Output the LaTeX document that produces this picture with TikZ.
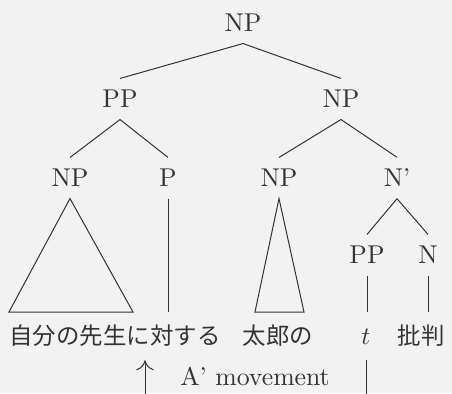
\documentclass[tikz,border=0pt]{standalone}
\usepackage{fontspec}
\newfontfamily\jafont{Noto Sans CJK JP}[Scale=0.91]
\usetikzlibrary{arrows.meta}

\begin{document}
\begin{tikzpicture}[x=0.4pt, y=0.4pt,
    color=black!80,
    font=\fontsize{10.3}{12}\selectfont,
    cat/.style={inner sep=4.5pt},
    word/.style={inner sep=4.5pt, text height=8.5pt, text depth=1.5pt},
    branch/.style={draw, line width=0.4pt}]

  % Page and its margins
  \fill[black!5] (0,0) rectangle (452,393);
  \useasboundingbox (0,0) rectangle (452,393);
  \clip (0,0) rectangle (452,393);

  % Root
  \node[cat] (NP0) at (243,370) {NP};

  % Second level
  \node[cat] (PP1) at (120,294) {PP};
  \node[cat] (NP1) at (341,294) {NP};

  % Third level
  \node[cat] (NP2) at (70,215) {NP};
  \node[cat] (P)   at (168,215) {P};
  \node[cat] (NP3) at (279,215) {NP};
  \node[cat] (N1)  at (397,215) {N'};

  % Fourth level
  \node[cat] (PP2) at (367,138) {PP};
  \node[cat] (N)   at (428,138) {N};

  % Words
  \node[word] (jibun) at (115,57) {\jafont 自分の先生に対する};
  \node[word] (taro)  at (278,57) {\jafont 太郎の};
  \node[word] (t)     at (366,57) {$t$};
  \node[word] (hihan) at (421,57) {\jafont 批判};
  \node (move) at (255,17) {A' movement};

  % Branches
  \foreach \a/\b in {NP0/PP1, NP0/NP1, PP1/NP2, PP1/P, NP1/NP3, NP1/N1, N1/PP2, N1/N} {
    \draw[branch] (\a.south) -- (\b.north);
  }

  % Unary branches
  \draw[branch] (P.south) -- (P.south |- jibun.north);
  \draw[branch] (PP2.south) -- (PP2.south |- t.north);
  \draw[branch] (N.south) -- (N.south |- hihan.north);

  % Triangles
  \draw[branch] (NP2.south) -- (9,81) -- (133,81) -- cycle;
  \draw[branch] (NP3.south) -- (255,81) -- (304,81) -- cycle;

  % Movement of the trace
  \coordinate (land) at (145,0);
  \draw[branch, -{To[length=4pt, width=7pt]}] (t.south) -- ++(0,-60) -| (land |- jibun.south);

\end{tikzpicture}
\end{document}
